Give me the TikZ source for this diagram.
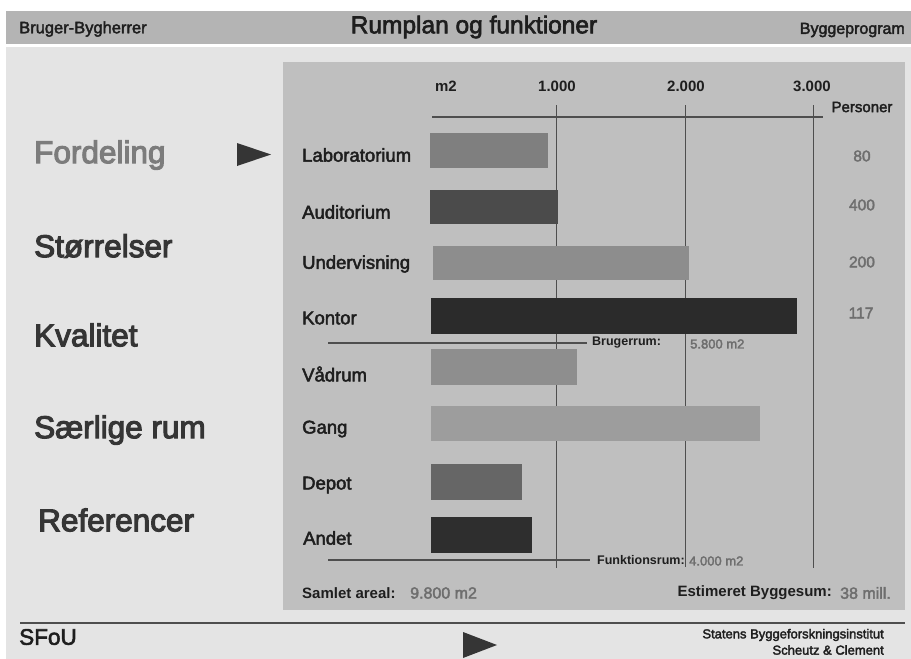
\documentclass[tikz,border=0pt]{standalone}
\usepackage{fontspec}
\setmainfont{Liberation Sans}
\newfontfamily\hv[FakeBold=2.5]{Liberation Sans}
\newfontfamily\hvm[FakeBold=3.5]{Liberation Sans}
\newcommand{\fsz}[1]{\fontsize{#1}{#1}\selectfont}
\definecolor{topbar}{HTML}{B4B4B4}
\definecolor{panelbg}{HTML}{E4E4E4}
\definecolor{chartbg}{HTML}{BFBFBF}
\definecolor{txtdark}{HTML}{1E1E1E}
\definecolor{txtgray}{HTML}{6E6E6E}
\definecolor{menudark}{HTML}{353535}
\definecolor{menulight}{HTML}{7C7C7C}
\definecolor{linegray}{HTML}{4E4E4E}
\tikzset{
  lbl/.style={anchor=west, inner sep=0pt, text=txtdark, font=\hv\fsz{18.5}},
  menuitem/.style={anchor=west, inner sep=0pt, text=menudark, font=\hvm\fsz{31.5}},
  axislbl/.style={inner sep=0pt, text=txtdark, font=\bfseries\fsz{15}},
  persnum/.style={inner sep=0pt, text=txtgray, font=\hv\fsz{15.5}},
  barbox/.style={anchor=north west, inner sep=0pt, draw=none, minimum height=35pt},
  gridline/.style={draw=linegray, line width=1pt},
  sumline/.style={draw=linegray, line width=1.2pt},
  smallbold/.style={anchor=west, inner sep=0pt, text=txtdark, font=\bfseries\fsz{12.5}},
  smallgray/.style={anchor=west, inner sep=0pt, text=txtgray, font=\hv\fsz{13}},
  totbold/.style={inner sep=0pt, text=txtdark, font=\bfseries\fsz{15}},
  totgray/.style={inner sep=0pt, text=txtgray, font=\hv\fsz{16}},
  arrowtri/.style={fill=menudark}
}
\begin{document}
\begin{tikzpicture}[x=1pt,y=-1pt]
\useasboundingbox (0,0) rectangle (911,659);
\fill[white] (0,0) rectangle (911,659);
% header bar and panels
\fill[topbar] (6,11) rectangle (911,44);
\fill[panelbg] (6,47) rectangle (911,659);
\fill[chartbg] (283,62) rectangle (905,610);
% header texts
\node[anchor=west, inner sep=0pt, text=txtdark, font=\hv\fsz{16.5}] (client) at (19,29) {Bruger-Bygherrer};
\node[inner sep=0pt, text=txtdark, font=\hv\fsz{24.5}] (title) at (474,27) {Rumplan og funktioner};
\node[anchor=east, inner sep=0pt, text=txtdark, font=\hv\fsz{16}] (prog) at (905,30) {Byggeprogram};
% left menu
\node[menuitem, text=menulight] (m1) at (34,155) {Fordeling};
\node[menuitem] (m2) at (34,246) {Størrelser};
\node[menuitem] (m3) at (34,335) {Kvalitet};
\node[menuitem] (m4) at (34,430) {Særlige rum};
\node[menuitem] (m5) at (38,520) {Referencer};
\fill[arrowtri] (237,143) -- (271,154.5) -- (237,166) -- cycle;
% axis
\node[axislbl] (am2) at (446,86) {m2};
\node[axislbl] (a1) at (557,86) {1.000};
\node[axislbl] (a2) at (686,86) {2.000};
\node[axislbl] (a3) at (812,86) {3.000};
\node[inner sep=0pt, text=txtdark, font=\hv\fsz{15}] (pers) at (862,107) {Personer};
\coordinate (axl) at (432,117);
\coordinate (axr) at (823,117);
\draw[draw=linegray, line width=1.6pt] (axl) -- (axr);
\coordinate (g1t) at (556,105); \coordinate (g1b) at (556,568);
\coordinate (g2t) at (685,105); \coordinate (g2b) at (685,567);
\coordinate (g3t) at (813,105); \coordinate (g3b) at (813,568);
\draw[gridline] (g1t) -- (g1b);
\draw[gridline] (g2t) -- (g2b);
\draw[gridline] (g3t) -- (g3b);
% summary lines
\coordinate (bl) at (328,343); \coordinate (br) at (587,343);
\draw[sumline] (bl) -- (br);
\node[smallbold] (brug) at (592,343) {Brugerrum:};
\node[smallgray] (brugv) at (690,344) {5.800 m2};
\coordinate (fl) at (328,560); \coordinate (fr) at (590,560);
\draw[sumline] (fl) -- (fr);
\node[smallbold] (funk) at (597,560) {Funktionsrum:};
\node[smallgray] (funkv) at (689,561) {4.000 m2};
% bars
\node[barbox, fill={rgb,255:red,127;green,127;blue,127}, minimum width=118pt] (b1) at (430,133) {};
\node[barbox, fill={rgb,255:red,75;green,75;blue,75}, minimum width=128pt, minimum height=34pt] (b2) at (430,190) {};
\node[barbox, fill={rgb,255:red,141;green,141;blue,141}, minimum width=256pt, minimum height=34pt] (b3) at (433,246) {};
\node[barbox, fill={rgb,255:red,43;green,43;blue,43}, minimum width=366pt, minimum height=36pt] (b4) at (431,298) {};
\node[barbox, fill={rgb,255:red,142;green,142;blue,142}, minimum width=146pt, minimum height=36pt] (b5) at (431,349) {};
\node[barbox, fill={rgb,255:red,157;green,157;blue,157}, minimum width=329pt] (b6) at (431,406) {};
\node[barbox, fill={rgb,255:red,102;green,102;blue,102}, minimum width=91pt, minimum height=36pt] (b7) at (431,464) {};
\node[barbox, fill={rgb,255:red,46;green,46;blue,46}, minimum width=101pt, minimum height=36pt] (b8) at (431,517) {};
% labels
\node[lbl] (l1) at (302,155) {Laboratorium};
\node[lbl] (l2) at (302,212) {Auditorium};
\node[lbl] (l3) at (302,264) {Undervisning};
\node[lbl] (l4) at (302,318) {Kontor};
\node[lbl] (l5) at (302,374) {Vådrum};
\node[lbl] (l6) at (302,429) {Gang};
\node[lbl] (l7) at (302,485) {Depot};
\node[lbl] (l8) at (303,538) {Andet};
% persons
\node[persnum] (p1) at (862,156) {80};
\node[persnum] (p2) at (862,205) {400};
\node[persnum] (p3) at (862,262) {200};
\node[persnum] (p4) at (861,313) {117};
% totals
\node[totbold, anchor=west] (tot) at (302,593) {Samlet areal:};
\node[totgray, anchor=west] (totv) at (410,593) {9.800 m2};
\node[totbold, anchor=east] (est) at (832,593) {Estimeret Byggesum:};
\node[totgray, anchor=west] (estv) at (840,593) {38 mill.};
% footer
\coordinate (sepl) at (20,623); \coordinate (sepr) at (905,623);
\draw[draw=linegray, line width=2pt] (sepl) -- (sepr);
\node[anchor=west, inner sep=0pt, text=txtdark, font=\hv\fsz{22.5}] (sfou) at (19,637) {SFoU};
\fill[arrowtri] (463,632) -- (497,645) -- (463,658) -- cycle;
\node[anchor=east, inner sep=0pt, text=txtdark, font=\hv\fsz{13}] (inst) at (884,635) {Statens Byggeforskningsinstitut};
\node[anchor=east, inner sep=0pt, text=txtdark, font=\hv\fsz{13}] (auth) at (884,650) {Scheutz \& Clement};
\end{tikzpicture}
\end{document}
